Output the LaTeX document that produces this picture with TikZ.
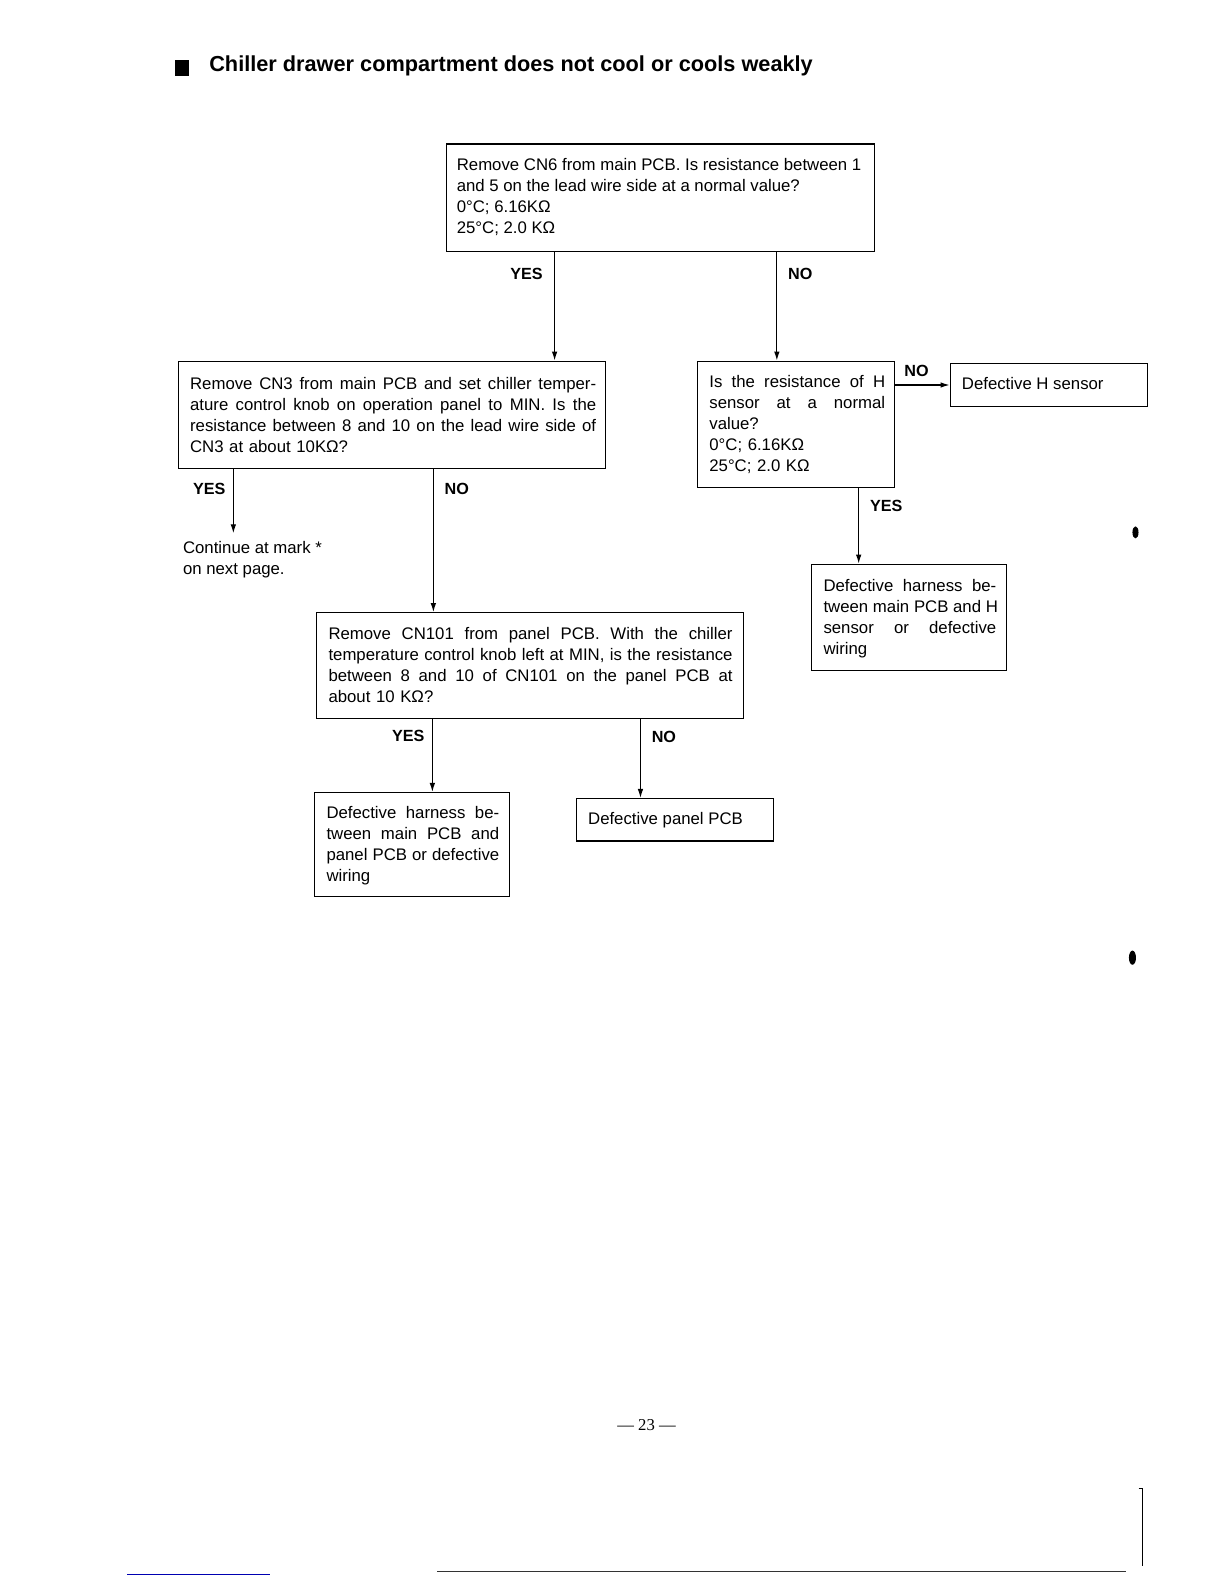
\documentclass[tikz,border=0pt]{standalone}
\usepackage{fontspec}
\setmainfont{Liberation Sans}
\newfontfamily\seriffam{Liberation Serif}
\usetikzlibrary{arrows.meta}
\newcommand{\jl}[1]{{\spaceskip=0.28em plus 2em\xspaceskip=0pt\makebox[\linewidth][s]{#1}}}
\tikzset{
  box/.style={draw, line width=1.2pt, rectangle, inner sep=0pt, anchor=north west},
  txt/.style={inner sep=0pt, anchor=north west, align=left, font=\fontsize{16.6}{20.8}\selectfont},
  lbl/.style={inner sep=0pt, anchor=west, font=\bfseries\fontsize{16}{16}\selectfont},
  arr/.style={line width=1.2pt, -{Latex[length=9pt,width=5.5pt]}},
}
\begin{document}
\begin{tikzpicture}[x=1pt,y=-1pt]
\useasboundingbox (0,0) rectangle (1212,1568);

% title
\fill (173,59) rectangle (187,75);
\node[anchor=base west, inner sep=0pt, font=\bfseries\fontsize{21.5}{21.5}\selectfont] (title) at (207,71) {Chiller drawer compartment does not cool or cools weakly};

% boxes
\node[box, minimum width=424pt, minimum height=106pt] (b1) at (441,142) {};
\node[txt] (t1) at (452,157) {Remove CN6 from main PCB. Is resistance between 1\\and 5 on the lead wire side at a normal value?\\0°C; 6.16KΩ\\25°C; 2.0 KΩ};

\node[box, minimum width=423pt, minimum height=106pt] (b2) at (176,357) {};
\node[txt, text width=402pt] (t2) at (188,373) {\jl{Remove CN3 from main PCB and set chiller temper-}\\\jl{ature control knob on operation panel to MIN. Is the}\\\jl{resistance between 8 and 10 on the lead wire side of}\\CN3 at about 10KΩ?};

\node[box, minimum width=195pt, minimum height=125pt] (hb) at (690,357) {};
\node[txt, text width=174pt] (th) at (702,371) {\jl{Is the resistance of H}\\\jl{sensor at a normal}\\value?\\0°C; 6.16KΩ\\25°C; 2.0 KΩ};

\node[box, minimum width=195pt, minimum height=43pt] (dhs) at (940,359) {};
\node[txt] (tdhs) at (952,373) {Defective H sensor};

\node[box, minimum width=193pt, minimum height=105pt] (hr) at (803,558) {};
\node[txt, text width=171pt] (thr) at (815,573) {\jl{Defective harness be-}\\\jl{tween main PCB and H}\\\jl{sensor or defective}\\wiring};

\node[box, minimum width=422pt, minimum height=105pt] (b3) at (313,606) {};
\node[txt, text width=400pt] (t3) at (325,621) {\jl{Remove CN101 from panel PCB. With the chiller}\\\jl{temperature control knob left at MIN, is the resistance}\\\jl{between 8 and 10 of CN101 on the panel PCB at}\\about 10 KΩ?};

\node[box, minimum width=193pt, minimum height=103pt] (hl) at (311,784) {};
\node[txt, text width=171pt] (thl) at (323,798) {\jl{Defective harness be-}\\\jl{tween main PCB and}\\\jl{panel PCB or defective}\\wiring};

\node[box, minimum width=195pt, minimum height=42pt] (dp) at (570,790) {};
\node[txt] (tdp) at (582,804) {Defective panel PCB};

\node[txt] (cont) at (181,536) {Continue at mark *\\on next page.};

% x positions of connectors
\coordinate (xa) at (549,0);
\coordinate (xb) at (769,0);
\coordinate (xc) at (850,0);
\coordinate (xd) at (231,0);
\coordinate (xe) at (429,0);
\coordinate (xf) at (428,0);
\coordinate (xg) at (634,0);

% connectors
\draw[arr] (b1.south -| xa) -- (b2.north -| xa);
\draw[arr] (b1.south -| xb) -- (hb.north -| xb);
\draw[arr] (hb.east |- dhs.west) -- (dhs.west);
\draw[arr] (hb.south -| xc) -- (hr.north -| xc);
\draw[arr] (b2.south -| xd) -- ([yshift=8pt]cont.north -| xd);
\draw[arr] (b2.south -| xe) -- (b3.north -| xe);
\draw[arr] (b3.south -| xf) -- (hl.north -| xf);
\draw[arr] (b3.south -| xg) -- (dp.north -| xg);

% labels
\node[lbl] (l1) at (505,271) {YES};
\node[lbl] (l2) at (780,271) {NO};
\node[lbl] (l3) at (895,367) {NO};
\node[lbl] (l4) at (861,501) {YES};
\node[lbl] (l5) at (191,484) {YES};
\node[lbl] (l6) at (440,484) {NO};
\node[lbl] (l7) at (388,728) {YES};
\node[lbl] (l8) at (645,729) {NO};

% page number
\node[inner sep=0pt, font=\seriffam\fontsize{16.5}{16.5}\selectfont] (pg) at (640,1411) {— 23 —};

% scan marks
\fill (1124,527) ellipse (3pt and 6pt);
\fill (1121,948) ellipse (3.5pt and 7pt);
\draw[line width=1.3pt] (1131,1473) -- (1131,1550);
\draw[line width=1pt] (1127,1473) -- (1131,1473);
\draw[line width=1pt, black!80] (433,1556) -- (1115,1556);
\draw[line width=1pt, blue!70!black] (126,1559) -- (267,1559);
\end{tikzpicture}
\end{document}
